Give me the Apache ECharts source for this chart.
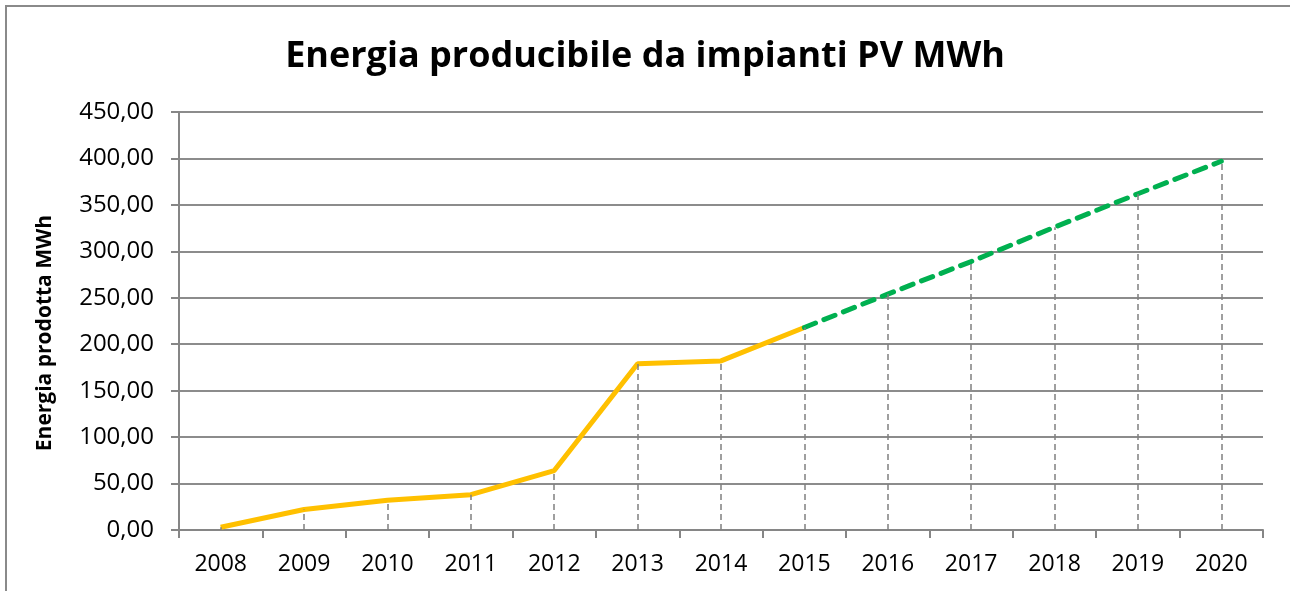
<!DOCTYPE html>
<html>
<head>
<meta charset="utf-8">
<script src="https://cdn.jsdelivr.net/npm/echarts@6/dist/echarts.min.js"></script>
<style>
    html, body {margin: 0; padding: 0; background: #fff;}
    #main {width: 1290px; height: 591px;}
</style>
</head>
<body>
<div id="main"></div>
<script>
const years = ['2008', '2009', '2010', '2011', '2012', '2013', '2014', '2015', '2016', '2017', '2018', '2019', '2020'];
// valori consuntivi (linea gialla)
const prodotta = [3, 22, 32, 38, 64, 179, 182, 218, null, null, null, null, null];
// previsione (linea verde tratteggiata)
const prevista = [null, null, null, null, null, null, null, 218, 254, 289, 326, 362, 397];
const yTicks = [0, 50, 100, 150, 200, 250, 300, 350, 400, 450];

const font = '"Open Sans", "Noto Sans", sans-serif';

// linee di proiezione verticali dal punto all'asse
const dropLines = years.map((y, i) => {
    const v = prodotta[i] != null ? prodotta[i] : prevista[i];
    return [{coord: [y, 0]}, {coord: [y, v]}];
});

const myChart = echarts.init(document.getElementById('main'));
myChart.setOption({
    animation: false,
    title: {
        text: 'Energia producibile da impianti PV MWh',
        left: 'center',
        top: 34,
        textStyle: {fontFamily: font, fontSize: 36, fontWeight: 'bold', color: '#000'}
    },
    graphic: [{
        type: 'rect',
        shape: {x: 6, y: 6, width: 1300, height: 600},
        style: {fill: 'none', stroke: '#8a8a8a', lineWidth: 2}
    }, {
        type: 'text',
        x: 45,
        y: 333,
        rotation: Math.PI / 2,
        style: {
            text: 'Energia prodotta MWh',
            fontFamily: font, fontSize: 21, fontWeight: 'bold', fill: '#000',
            align: 'center', verticalAlign: 'middle'
        }
    }],
    grid: {left: 179, right: 27, top: 112, bottom: 61},
    xAxis: {
        type: 'category',
        data: years,
        boundaryGap: true,
        axisLine: {lineStyle: {color: '#868686', width: 2}},
        axisTick: {show: true, length: 8, lineStyle: {color: '#868686', width: 2}},
        axisLabel: {fontFamily: font, fontSize: 23, color: '#000', margin: 23}
    },
    yAxis: {
        type: 'value',
        min: yTicks[0],
        max: yTicks[yTicks.length - 1],
        interval: 50,
        axisLine: {show: true, lineStyle: {color: '#868686', width: 2}},
        axisTick: {show: true, length: 8, lineStyle: {color: '#868686', width: 2}},
        splitLine: {lineStyle: {color: '#8c8c8c', width: 2}},
        axisLabel: {
            fontFamily: font, fontSize: 24, color: '#000', margin: 25,
            formatter: v => v.toFixed(2).replace('.', ',')
        }
    },
    series: [
        {
            name: 'linee',
            type: 'line',
            data: [],
            z: 1,
            silent: true,
            markLine: {
                silent: true,
                symbol: 'none',
                label: {show: false},
                lineStyle: {color: '#808080', type: [6, 4], width: 1.5},
                data: dropLines
            }
        },
        {
            name: 'Prodotta',
            type: 'line',
            data: prodotta,
            z: 3,
            symbol: 'none',
            lineStyle: {color: '#ffc000', width: 5}
        },
        {
            name: 'Prevista',
            type: 'line',
            data: prevista,
            z: 3,
            symbol: 'none',
            lineStyle: {color: '#00b050', width: 5, type: [12, 9], cap: 'round'}
        }
    ]
});
</script>
</body>
</html>
